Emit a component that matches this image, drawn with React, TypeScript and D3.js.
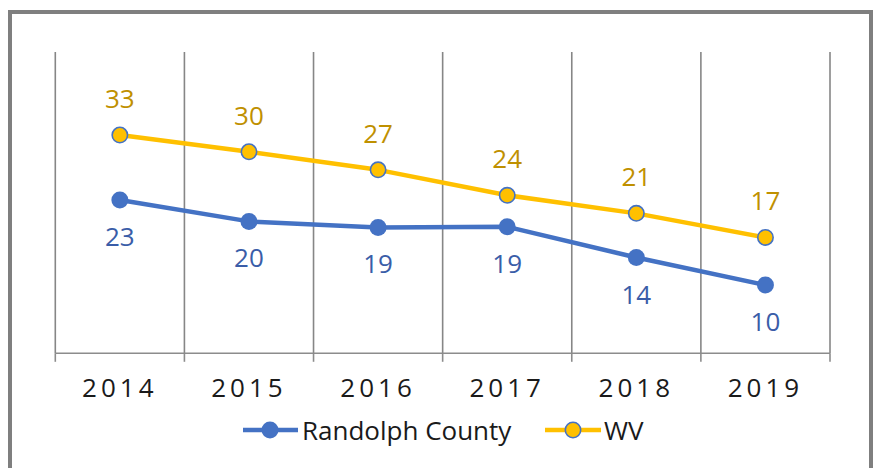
import React from "react";
import * as d3 from "d3";

const years = ["2014", "2015", "2016", "2017", "2018", "2019"];
const randolph = [22.9, 19.7, 18.8, 18.9, 14.3, 10.2];
const wv = [32.6, 30.1, 27.4, 23.6, 20.9, 17.3];
const yDomain = [0, 45];

const W = 876;
const H = 468;
const plot = { left: 55.3, right: 830, top: 52, bottom: 353.3 };
const FONT = "'Open Sans', 'Noto Sans', sans-serif";
const BLUE = "#4472C4";
const GOLD = "#FFC000";

export default function App() {
  const x = d3.scaleBand().domain(years).range([plot.left, plot.right]);
  const y = d3.scaleLinear().domain(yDomain).range([plot.bottom, plot.top]);
  const cx = (i: number) => (x(years[i]) as number) + x.bandwidth() / 2;
  const line = d3
    .line<number>()
    .x((_, i) => cx(i))
    .y((d) => y(d));
  const bounds = years.map((yr) => x(yr) as number).concat([plot.right]);

  return (
    <div style={{ position: "absolute", left: 0, top: 0 }}>
      <svg width={W} height={H} style={{ display: "block", background: "#fff" }}>
        <rect x={10} y={12} width={861} height={480} fill="#fff" stroke="#7f7f7f" strokeWidth={4} />
        {bounds.map((b, i) => (
          <line key={"g" + i} x1={b} x2={b} y1={plot.top} y2={plot.bottom} stroke="#868686" strokeWidth={1.6} />
        ))}
        <line x1={plot.left} x2={plot.right} y1={plot.bottom} y2={plot.bottom} stroke="#8c8c8c" strokeWidth={1.6} />
        {bounds.map((b, i) => (
          <line key={"t" + i} x1={b} x2={b} y1={plot.bottom} y2={plot.bottom + 8.5} stroke="#8c8c8c" strokeWidth={1.6} />
        ))}
        {years.map((yr, i) => (
          <text
            key={yr}
            x={cx(i)}
            y={397}
            textAnchor="middle"
            fontFamily={FONT}
            fontSize={26}
            letterSpacing={4}
            fill="#1a1a1a"
          >
            {yr}
          </text>
        ))}
        <path d={line(randolph) as string} fill="none" stroke={BLUE} strokeWidth={4.5} strokeLinejoin="round" />
        <path d={line(wv) as string} fill="none" stroke={GOLD} strokeWidth={4.5} strokeLinejoin="round" />
        {randolph.map((v, i) => (
          <circle key={"r" + i} cx={cx(i)} cy={y(v)} r={8.5} fill={BLUE} />
        ))}
        {wv.map((v, i) => (
          <circle key={"w" + i} cx={cx(i)} cy={y(v)} r={7.7} fill={GOLD} stroke={BLUE} strokeWidth={1.6} />
        ))}
        {randolph.map((v, i) => (
          <text
            key={"rl" + i}
            x={cx(i)}
            y={y(v) + 46}
            textAnchor="middle"
            fontFamily={FONT}
            fontSize={26}
            fill="#3A5DA8"
          >
            {Math.round(v)}
          </text>
        ))}
        {wv.map((v, i) => (
          <text
            key={"wl" + i}
            x={cx(i)}
            y={y(v) - 27}
            textAnchor="middle"
            fontFamily={FONT}
            fontSize={26}
            fill="#BF9000"
          >
            {Math.round(v)}
          </text>
        ))}
        <g>
          <line x1={243} x2={298} y1={430} y2={430} stroke={BLUE} strokeWidth={4.5} />
          <circle cx={270} cy={430} r={8.5} fill={BLUE} />
          <text x={302} y={439.5} fontFamily={FONT} fontSize={26} fill="#1a1a1a">
            Randolph County
          </text>
          <line x1={545} x2={601} y1={430} y2={430} stroke={GOLD} strokeWidth={4.5} />
          <circle cx={573} cy={430} r={7.7} fill={GOLD} stroke={BLUE} strokeWidth={1.6} />
          <text x={604} y={439.5} fontFamily={FONT} fontSize={26} fill="#1a1a1a">
            WV
          </text>
        </g>
      </svg>
    </div>
  );
}
